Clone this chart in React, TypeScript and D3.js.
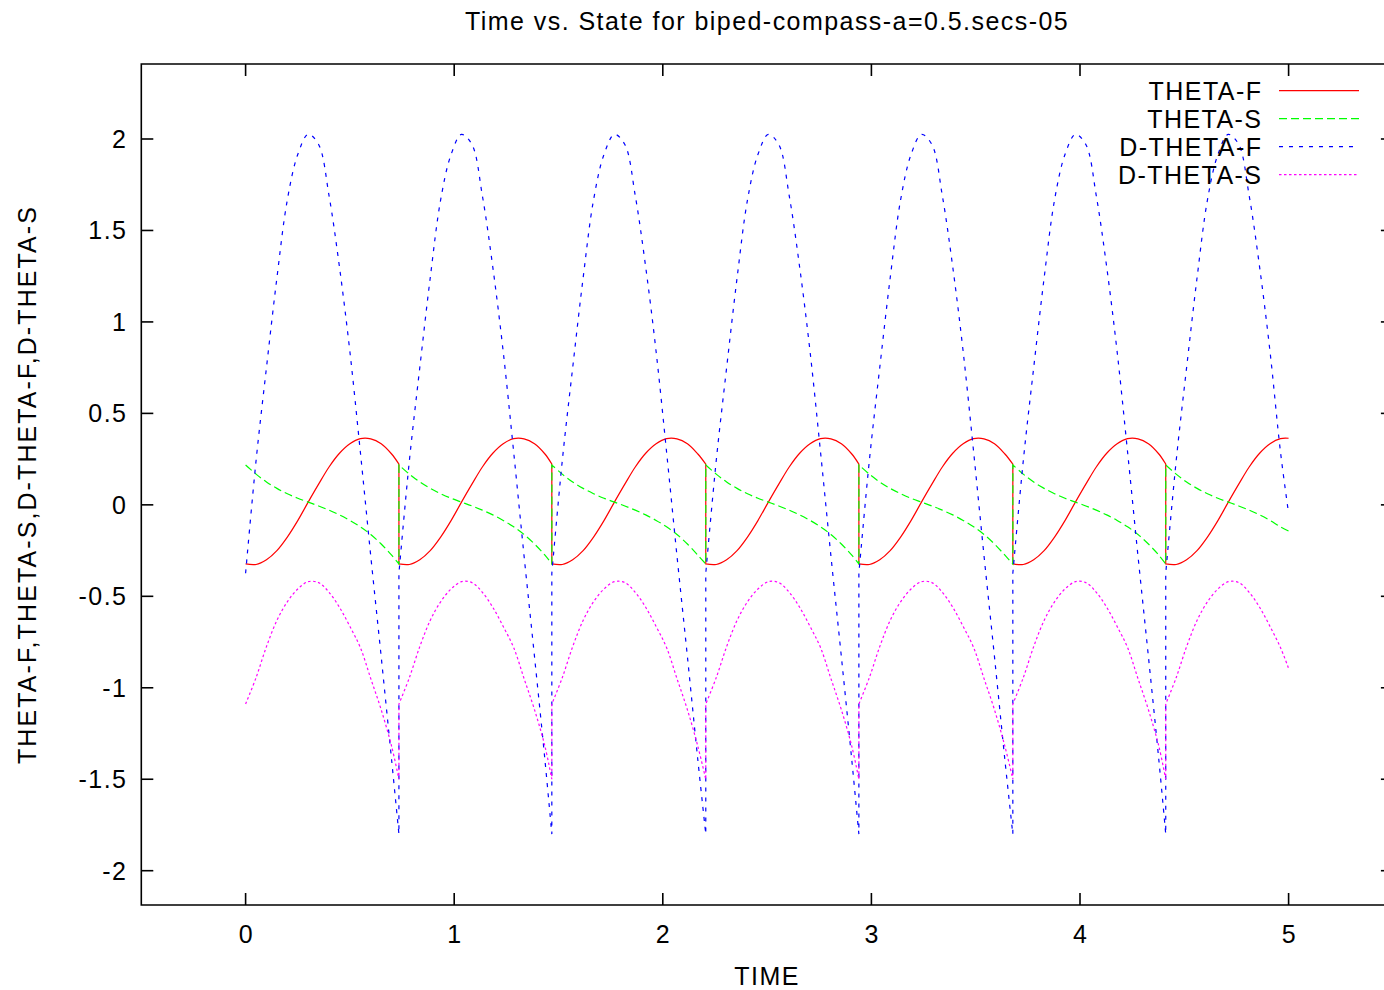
import React from "react";
import * as d3 from "d3";

// ---- data (one sub-array per step between impacts) ----
const TIME: number[][] = [
  [0, 0.05, 0.1, 0.15, 0.2, 0.25, 0.3, 0.35, 0.4, 0.45, 0.5, 0.55, 0.6, 0.65, 0.7, 0.735],
  [0.735, 0.785, 0.835, 0.885, 0.935, 0.985, 1.035, 1.085, 1.135, 1.185, 1.235, 1.285, 1.335, 1.385, 1.435, 1.468],
  [1.468, 1.518, 1.568, 1.618, 1.668, 1.718, 1.768, 1.818, 1.868, 1.918, 1.968, 2.018, 2.068, 2.118, 2.168, 2.206],
  [2.206, 2.256, 2.306, 2.356, 2.406, 2.456, 2.506, 2.556, 2.606, 2.656, 2.706, 2.756, 2.806, 2.856, 2.906, 2.94],
  [2.94, 2.99, 3.04, 3.09, 3.14, 3.19, 3.24, 3.29, 3.34, 3.39, 3.44, 3.49, 3.54, 3.59, 3.64, 3.678],
  [3.678, 3.728, 3.778, 3.828, 3.878, 3.928, 3.978, 4.028, 4.078, 4.128, 4.178, 4.228, 4.278, 4.328, 4.378, 4.411],
  [4.411, 4.461, 4.511, 4.561, 4.611, 4.661, 4.711, 4.761, 4.811, 4.861, 4.911, 4.961, 5.0],
];

const THETA_F: number[][] = [
  [-0.323, -0.326, -0.3, -0.25, -0.176, -0.086, 0.015, 0.113, 0.207, 0.282, 0.334, 0.362, 0.361, 0.334, 0.278, 0.223],
  [-0.323, -0.326, -0.3, -0.25, -0.176, -0.086, 0.015, 0.113, 0.207, 0.282, 0.334, 0.362, 0.361, 0.334, 0.278, 0.223],
  [-0.323, -0.326, -0.3, -0.25, -0.176, -0.086, 0.015, 0.113, 0.207, 0.282, 0.334, 0.362, 0.361, 0.334, 0.278, 0.223],
  [-0.323, -0.326, -0.3, -0.25, -0.176, -0.086, 0.015, 0.113, 0.207, 0.282, 0.334, 0.362, 0.361, 0.334, 0.278, 0.223],
  [-0.323, -0.326, -0.3, -0.25, -0.176, -0.086, 0.015, 0.113, 0.207, 0.282, 0.334, 0.362, 0.361, 0.334, 0.278, 0.223],
  [-0.323, -0.326, -0.3, -0.25, -0.176, -0.086, 0.015, 0.113, 0.207, 0.282, 0.334, 0.362, 0.361, 0.334, 0.278, 0.223],
  [-0.323, -0.326, -0.3, -0.25, -0.176, -0.086, 0.015, 0.113, 0.207, 0.282, 0.334, 0.362, 0.364],
];

const THETA_S: number[][] = [
  [0.218, 0.168, 0.125, 0.09, 0.061, 0.036, 0.015, -0.006, -0.029, -0.055, -0.085, -0.12, -0.162, -0.214, -0.275, -0.323],
  [0.218, 0.168, 0.125, 0.09, 0.061, 0.036, 0.015, -0.006, -0.029, -0.055, -0.085, -0.12, -0.162, -0.214, -0.275, -0.323],
  [0.218, 0.168, 0.125, 0.09, 0.061, 0.036, 0.015, -0.006, -0.029, -0.055, -0.085, -0.12, -0.162, -0.214, -0.275, -0.323],
  [0.218, 0.168, 0.125, 0.09, 0.061, 0.036, 0.015, -0.006, -0.029, -0.055, -0.085, -0.12, -0.162, -0.214, -0.275, -0.323],
  [0.218, 0.168, 0.125, 0.09, 0.061, 0.036, 0.015, -0.006, -0.029, -0.055, -0.085, -0.12, -0.162, -0.214, -0.275, -0.323],
  [0.218, 0.168, 0.125, 0.09, 0.061, 0.036, 0.015, -0.006, -0.029, -0.055, -0.085, -0.12, -0.162, -0.214, -0.275, -0.323],
  [0.218, 0.168, 0.125, 0.09, 0.061, 0.036, 0.015, -0.006, -0.029, -0.055, -0.085, -0.12, -0.143],
];

const D_THETA_F: number[][] = [
  [-0.374, 0.24, 0.75, 1.24, 1.667, 1.915, 2.025, 1.97, 1.69, 1.3, 0.837, 0.29, -0.28, -0.83, -1.395, -1.8],
  [-0.374, 0.24, 0.75, 1.24, 1.667, 1.915, 2.025, 1.97, 1.69, 1.3, 0.837, 0.29, -0.28, -0.83, -1.395, -1.8],
  [-0.374, 0.24, 0.75, 1.24, 1.667, 1.915, 2.025, 1.97, 1.69, 1.3, 0.837, 0.29, -0.28, -0.83, -1.395, -1.8],
  [-0.374, 0.24, 0.75, 1.24, 1.667, 1.915, 2.025, 1.97, 1.69, 1.3, 0.837, 0.29, -0.28, -0.83, -1.395, -1.8],
  [-0.374, 0.24, 0.75, 1.24, 1.667, 1.915, 2.025, 1.97, 1.69, 1.3, 0.837, 0.29, -0.28, -0.83, -1.395, -1.8],
  [-0.374, 0.24, 0.75, 1.24, 1.667, 1.915, 2.025, 1.97, 1.69, 1.3, 0.837, 0.29, -0.28, -0.83, -1.395, -1.8],
  [-0.374, 0.24, 0.75, 1.24, 1.667, 1.915, 2.025, 1.97, 1.69, 1.3, 0.837, 0.29, -0.046],
];

const D_THETA_S: number[][] = [
  [-1.089, -0.945, -0.775, -0.632, -0.53, -0.46, -0.42, -0.425, -0.478, -0.56, -0.665, -0.78, -0.95, -1.12, -1.32, -1.5],
  [-1.089, -0.945, -0.775, -0.632, -0.53, -0.46, -0.42, -0.425, -0.478, -0.56, -0.665, -0.78, -0.95, -1.12, -1.32, -1.5],
  [-1.089, -0.945, -0.775, -0.632, -0.53, -0.46, -0.42, -0.425, -0.478, -0.56, -0.665, -0.78, -0.95, -1.12, -1.32, -1.5],
  [-1.089, -0.945, -0.775, -0.632, -0.53, -0.46, -0.42, -0.425, -0.478, -0.56, -0.665, -0.78, -0.95, -1.12, -1.32, -1.5],
  [-1.089, -0.945, -0.775, -0.632, -0.53, -0.46, -0.42, -0.425, -0.478, -0.56, -0.665, -0.78, -0.95, -1.12, -1.32, -1.5],
  [-1.089, -0.945, -0.775, -0.632, -0.53, -0.46, -0.42, -0.425, -0.478, -0.56, -0.665, -0.78, -0.95, -1.12, -1.32, -1.5],
  [-1.089, -0.945, -0.775, -0.632, -0.53, -0.46, -0.42, -0.425, -0.478, -0.56, -0.665, -0.78, -0.894],
];

const SERIES_NAMES = ["THETA-F", "THETA-S", "D-THETA-F", "D-THETA-S"];
const X_TICKS = [0, 1, 2, 3, 4, 5];
const Y_TICKS = [-2, -1.5, -1, -0.5, 0, 0.5, 1, 1.5, 2];

const TITLE = "Time vs. State for biped-compass-a=0.5.secs-05";
const X_LABEL = "TIME";
const Y_LABEL = "THETA-F,THETA-S,D-THETA-F,D-THETA-S";

// ---- layout ----
const W = 1384;
const H = 990;
const L = 141.3;
const R = 1392.9;
const T = 64;
const B = 905;
const FONT = "'Liberation Sans', Arial, Helvetica, sans-serif";
const FS = 25;
const LS = 1.45;

const STYLES = [
  { color: "#ff0000", dash: "" },
  { color: "#00ff00", dash: "8,4" },
  { color: "#0000ff", dash: "4,6" },
  { color: "#ff00ff", dash: "2.5,2.5" },
];

export default function App() {
  const x = d3.scaleLinear().domain([-0.5, 5.5]).range([L, R]);
  const y = d3.scaleLinear().domain([-2.1875, 2.41]).range([B, T]);
  const line = d3
    .line<[number, number]>()
    .x((d) => x(d[0]))
    .y((d) => y(d[1]))
    .curve(d3.curveCatmullRom.alpha(0.5));

  const all = [THETA_F, THETA_S, D_THETA_F, D_THETA_S];
  const paths = all.map((series) =>
    series
      .map((seg, i) => {
        const pts = seg.map((v, j) => [TIME[i][j], v] as [number, number]);
        const p = line(pts) || "";
        return i === 0 ? p : p.replace(/^M/, "L");
      })
      .join("")
  );

  const tick = 12;
  return (
    <svg
      width={W}
      height={H}
      style={{ position: "absolute", left: 0, top: 0, background: "#fff" }}
      fontFamily={FONT}
      fontSize={FS}
      letterSpacing={LS}
    >
      <rect x={0} y={0} width={W} height={H} fill="#fff" />
      {/* data */}
      <g fill="none">
        {paths.map((d, i) => (
          <path
            key={i}
            d={d}
            stroke={STYLES[i].color}
            strokeWidth={1.2}
            strokeDasharray={STYLES[i].dash || undefined}
          />
        ))}
      </g>
      {/* border */}
      <path
        d={`M${L},${T}H${R}V${B}H${L}Z`}
        fill="none"
        stroke="#000"
        strokeWidth={1.6}
      />
      {/* y ticks */}
      {Y_TICKS.map((v) => (
        <g key={"y" + v}>
          <line x1={L} x2={L + tick} y1={y(v)} y2={y(v)} stroke="#000" strokeWidth={1.6} />
          <line x1={R} x2={R - tick} y1={y(v)} y2={y(v)} stroke="#000" strokeWidth={1.6} />
          <text x={126 + LS} y={y(v) + 9} textAnchor="end">
            {String(v)}
          </text>
        </g>
      ))}
      {/* x ticks */}
      {X_TICKS.map((v) => (
        <g key={"x" + v}>
          <line x1={x(v)} x2={x(v)} y1={B} y2={B - tick} stroke="#000" strokeWidth={1.6} />
          <line x1={x(v)} x2={x(v)} y1={T} y2={T + tick} stroke="#000" strokeWidth={1.6} />
          <text x={x(v) + LS / 2} y={943} textAnchor="middle">
            {String(v)}
          </text>
        </g>
      ))}
      {/* labels */}
      <text x={(L + R) / 2} y={30} textAnchor="middle">
        {TITLE}
      </text>
      <text x={(L + R) / 2} y={985} textAnchor="middle">
        {X_LABEL}
      </text>
      <text
        transform={`translate(36,${(T + B) / 2}) rotate(-90)`}
        textAnchor="middle"
        letterSpacing={2.1}
      >
        {Y_LABEL}
      </text>
      {/* legend */}
      {SERIES_NAMES.map((name, i) => {
        const cy = 90.7 + i * 28;
        return (
          <g key={name}>
            <text x={1261 + LS} y={cy + 9} textAnchor="end">
              {name}
            </text>
            <line
              x1={1279}
              x2={1359}
              y1={cy}
              y2={cy}
              stroke={STYLES[i].color}
              strokeWidth={1.2}
              strokeDasharray={STYLES[i].dash || undefined}
            />
          </g>
        );
      })}
    </svg>
  );
}
